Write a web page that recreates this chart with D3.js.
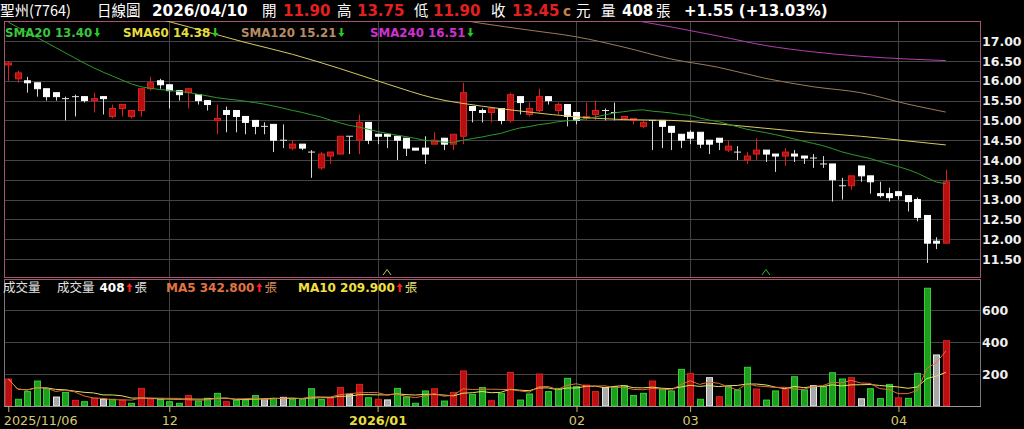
<!DOCTYPE html>
<html><head><meta charset="utf-8">
<script src="https://cdn.jsdelivr.net/npm/d3@7"></script>
<style>html,body{margin:0;padding:0;background:#000;overflow:hidden}</style>
</head><body><svg id="c" width="1024" height="429"></svg>
<script>
// ---------------- data ----------------
const open = [16.40,16.05,16.00,15.95,15.80,15.70,15.55,15.60,15.60,15.50,
15.60,15.10,15.30,15.10,15.25,15.80,16.00,15.90,15.75,15.70,
15.65,15.50,15.00,15.25,15.25,15.10,15.00,14.85,14.90,14.50,
14.30,14.40,14.20,13.80,14.10,14.15,14.60,14.50,14.95,14.65,
14.65,14.60,14.55,14.30,14.30,14.40,14.55,14.40,14.60,15.35,
15.25,15.20,15.30,15.00,15.60,15.15,15.25,15.60,15.25,15.40,
15.20,15.05,15.15,15.25,15.20,15.05,15.00,14.85,15.00,15.00,
14.85,14.65,14.70,14.70,14.50,14.55,14.25,14.20,14.00,14.15,
14.25,14.15,14.10,14.15,14.10,14.05,13.90,13.90,13.35,13.35,
13.85,13.60,13.15,13.15,13.20,13.10,13.00,12.60,11.95,11.90];
const high = [16.50,16.25,16.10,15.95,15.80,15.70,15.60,15.65,15.60,15.70,
15.60,15.40,15.40,15.25,15.80,16.10,16.05,15.90,15.75,15.80,
15.65,15.50,15.40,15.35,15.25,15.10,15.00,14.95,14.90,14.90,
14.50,14.40,14.25,14.20,14.20,14.60,14.60,15.15,14.95,14.65,
14.65,14.60,14.55,14.30,14.60,14.70,14.55,14.65,15.95,15.35,
15.30,15.30,15.30,15.70,15.60,15.45,15.80,15.60,15.45,15.40,
15.20,15.45,15.50,15.30,15.45,15.10,15.05,15.00,15.00,15.00,
14.85,14.65,14.75,14.70,14.50,14.55,14.50,14.35,14.20,14.55,
14.25,14.15,14.30,14.25,14.10,14.15,14.10,13.90,13.55,13.60,
13.85,13.60,13.45,13.30,13.20,13.10,13.05,12.60,12.05,13.75];
const low = [16.00,15.95,15.70,15.60,15.50,15.50,15.00,15.10,15.45,15.20,
15.15,15.05,15.10,15.05,15.10,15.75,15.80,15.30,15.50,15.30,
15.40,15.25,14.65,14.70,14.70,14.65,14.65,14.65,14.20,14.30,
14.25,14.25,13.55,13.75,13.90,14.15,14.15,14.15,14.40,14.40,
14.30,14.00,14.10,14.25,13.90,14.40,14.25,14.25,14.40,14.95,
14.95,14.95,14.90,14.95,15.15,15.10,15.20,15.40,15.15,14.85,
14.90,15.00,15.00,15.00,15.00,15.05,14.90,14.80,14.25,14.30,
14.25,14.30,14.40,14.30,14.15,14.25,14.20,14.00,13.90,14.00,
13.95,13.70,13.85,13.95,13.90,13.80,13.80,12.95,13.00,13.25,
13.45,13.15,13.05,12.95,13.00,12.70,12.45,11.40,11.75,11.90];
const close = [16.45,16.20,15.95,15.80,15.60,15.60,15.55,15.60,15.50,15.55,
15.55,15.30,15.40,15.25,15.80,15.95,15.90,15.75,15.65,15.80,
15.50,15.40,15.05,15.15,15.10,14.95,14.85,14.85,14.50,14.50,
14.40,14.30,14.20,14.15,14.20,14.60,14.60,14.95,14.50,14.60,
14.60,14.50,14.30,14.25,14.15,14.50,14.40,14.65,15.70,15.25,
15.20,15.30,15.00,15.65,15.45,15.30,15.60,15.50,15.40,15.10,
15.00,15.10,15.25,15.25,15.20,15.10,15.05,14.95,15.00,14.85,
14.70,14.50,14.55,14.40,14.40,14.45,14.35,14.20,14.10,14.25,
14.15,14.10,14.20,14.10,14.05,14.05,13.90,13.50,13.35,13.60,
13.60,13.45,13.10,13.05,13.10,12.95,12.55,11.90,11.90,13.45];
const volume = [169,42,90,156,110,56,85,35,27,48,
42,42,35,17,110,42,42,27,17,65,
31,48,79,27,35,38,65,42,48,54,
42,42,108,40,48,115,73,135,52,42,
38,110,56,17,94,108,31,85,219,73,
115,33,79,210,37,75,200,90,110,173,
121,131,90,115,121,127,65,79,156,106,
94,229,204,42,177,58,121,100,242,106,
37,94,106,183,100,127,121,208,169,177,
45,108,46,135,51,48,204,736,319,408];

// SMA20 before enough closes are on the chart
const sma20Early = [17.48,17.35,17.22,17.10,16.97,16.84,16.71,16.58,16.45,16.33,
16.22,16.12,16.02,15.92,15.85,15.81,15.78,15.76,15.73];
// long moving averages at these candle indices
const maIdx  = [0,5,10,15,20,25,30,35,40,45,50,55,60,65,70,75,80,85,90,95,99];
const sma60  = [18.60,18.28,17.95,17.62,17.30,16.97,16.67,16.31,15.92,15.56,15.36,15.21,15.09,15.02,15.00,14.91,14.80,14.69,14.60,14.48,14.38];
const sma120 = [19.00,18.90,18.80,18.70,18.55,18.40,18.25,18.05,17.85,17.65,17.45,17.28,17.11,16.85,16.55,16.34,16.06,15.85,15.70,15.41,15.21];
const sma240 = [19.90,19.70,19.50,19.30,19.10,18.95,18.80,18.65,18.50,18.35,18.20,18.05,17.85,17.58,17.36,17.13,16.89,16.73,16.62,16.55,16.51];

const priceTicks = [11.5,12.0,12.5,13.0,13.5,14.0,14.5,15.0,15.5,16.0,16.5,17.0];
const volTicks = [200,400,600];
const dateTickIdx = [0,17,39,60,72,94];
const dateTickLabels = ["2025/11/06","12","2026/01","02","03","04"];
const dateTickYear = [false,false,true,false,false,false];
const markerIdx = [40,80];
const markerColors = ["#c8bf6a","#2fb82f"];

const smaLegend = [
  {name:"SMA20", value:"13.40", color:"#3cc43c", line:"#2e9a2e"},
  {name:"SMA60", value:"14.38", color:"#e6dc3c", line:"#d8c860"},
  {name:"SMA120", value:"15.21", color:"#b88c62", line:"#9c7a58"},
  {name:"SMA240", value:"16.51", color:"#d030d0", line:"#b43cb4"}
];
const volLegendVals = {vol:"408", ma5:"342.800", ma10:"209.900"};

// ---------------- drawing ----------------
const N = close.length;
const svg = d3.select("#c");
const CJK = "'Noto Sans CJK TC','Noto Sans CJK SC',sans-serif";
const LAT = "'DejaVu Sans',Verdana,sans-serif";
svg.append("rect").attr("width",1024).attr("height",429).attr("fill","#000");

const PL=4, PR=980, MT=21, MB=276.5, VT=279, VB=406;
const x = d3.scaleLinear().domain([0, 99]).range([8.3, 945.8]);
const y = d3.scaleLinear().domain([11.5, 17.0]).range([259, 41.2]);
const yv = d3.scaleLinear().domain([0, 600]).range([406, 310]);

const defs = svg.append("defs");
defs.append("clipPath").attr("id","mainClip").append("rect")
  .attr("x",PL).attr("y",MT).attr("width",PR-PL).attr("height",MB-MT);
defs.append("clipPath").attr("id","volClip").append("rect")
  .attr("x",PL).attr("y",VT).attr("width",PR-PL).attr("height",VB-VT);

// grids
const grid = svg.append("g").attr("stroke","#444").attr("stroke-width",1).attr("shape-rendering","crispEdges");
priceTicks.forEach(p => grid.append("line").attr("x1",PL).attr("x2",PR).attr("y1",Math.round(y(p))+0.5).attr("y2",Math.round(y(p))+0.5));
volTicks.forEach(v => grid.append("line").attr("x1",PL).attr("x2",PR).attr("y1",Math.round(yv(v))+0.5).attr("y2",Math.round(yv(v))+0.5));
dateTickIdx.slice(1).forEach(i => {
  const xx = Math.round(x(i))+0.5;
  grid.append("line").attr("x1",xx).attr("x2",xx).attr("y1",MT).attr("y2",MB);
  grid.append("line").attr("x1",xx).attr("x2",xx).attr("y1",VT).attr("y2",VB);
});

// borders
svg.append("rect").attr("x",PL+0.5).attr("y",MT+0.5).attr("width",PR-PL).attr("height",MB-MT)
  .attr("fill","none").attr("stroke","#a4566f").attr("shape-rendering","crispEdges");
svg.append("line").attr("x1",PL).attr("x2",PR).attr("y1",VT+0.5).attr("y2",VT+0.5)
  .attr("stroke","#a4566f").attr("shape-rendering","crispEdges");
svg.append("line").attr("x1",PL+0.5).attr("x2",PL+0.5).attr("y1",VT).attr("y2",VB)
  .attr("stroke","#777").attr("shape-rendering","crispEdges");
svg.append("line").attr("x1",PR+0.5).attr("x2",PR+0.5).attr("y1",VT).attr("y2",VB)
  .attr("stroke","#777").attr("shape-rendering","crispEdges");

// candles
const cw = 7;
const cg = svg.append("g").attr("clip-path","url(#mainClip)");
const candle = cg.selectAll("g").data(d3.range(N)).join("g");
candle.append("line")
  .attr("x1",i=>Math.round(x(i))+0.5).attr("x2",i=>Math.round(x(i))+0.5)
  .attr("y1",i=>y(high[i])).attr("y2",i=>y(low[i]))
  .attr("stroke",i=>close[i]>open[i]?"#e01c1c":"#d8d8d8").attr("stroke-width",1);
candle.append("rect")
  .attr("x",i=>Math.round(x(i))-3+0.5)
  .attr("width",cw-1)
  .attr("y",i=>y(Math.max(open[i],close[i])))
  .attr("height",i=>Math.max(0.01,Math.abs(y(open[i])-y(close[i]))))
  .attr("fill",i=>close[i]>open[i]?"#b41010":"#ffffff")
  .attr("stroke",i=>close[i]>open[i]?"#e02020":(close[i]<open[i]?"#ffffff":"#e0e0e0"))
  .attr("stroke-width",1);

// moving average lines (price)
const sma20 = d3.range(N).map(i => i < sma20Early.length ? sma20Early[i] : d3.mean(close.slice(i-19, i+1)));
const priceLine = d3.line().x(d=>x(d[0])).y(d=>y(d[1])).curve(d3.curveMonotoneX);
const mg = svg.append("g").attr("clip-path","url(#mainClip)").attr("fill","none").attr("stroke-width",1);
mg.append("path").attr("d",priceLine(maIdx.map((k,j)=>[k,sma240[j]]))).attr("stroke",smaLegend[3].line);
mg.append("path").attr("d",priceLine(maIdx.map((k,j)=>[k,sma120[j]]))).attr("stroke",smaLegend[2].line);
mg.append("path").attr("d",priceLine(maIdx.map((k,j)=>[k,sma60[j]]))).attr("stroke",smaLegend[1].line);
mg.append("path").attr("d",d3.line().x((d,i)=>x(i)).y(d=>y(d))(sma20)).attr("stroke",smaLegend[0].line);

// markers
markerIdx.forEach((k,j)=>{
  const xx = x(k);
  svg.append("path").attr("d",`M${xx-4},${MB-1.5}L${xx},${MB-7}L${xx+4},${MB-1.5}`)
    .attr("fill","none").attr("stroke",markerColors[j]).attr("stroke-width",1);
});

// price axis
const pAxis = svg.append("g").attr("transform",`translate(${PR+1},0)`)
  .call(d3.axisRight(y).tickValues(priceTicks).tickFormat(d3.format(".2f")).tickSize(0).tickPadding(1));
pAxis.select(".domain").remove();
pAxis.selectAll("text").attr("fill","#f0f0f0").attr("font-family",LAT).attr("font-weight","bold").attr("font-size","12.5px");

// volume bars
const dir = i => i===0 ? Math.sign(close[0]-open[0]) : Math.sign(Math.round((close[i]-close[i-1])*100));
const vg = svg.append("g").attr("clip-path","url(#volClip)");
vg.selectAll("rect").data(d3.range(N)).join("rect")
  .attr("x",i=>Math.round(x(i))-3+0.5).attr("width",cw-1)
  .attr("y",i=>yv(volume[i])).attr("height",i=>yv(0)-yv(volume[i]))
  .attr("fill",i=>dir(i)>0?"#b81010":dir(i)<0?"#1e9e1e":"#a8a8a8")
  .attr("stroke",i=>dir(i)>0?"#e02020":dir(i)<0?"#34d034":"#e8e8e8").attr("stroke-width",1);
const maV = n => d3.range(N).map(i => d3.mean(volume.slice(Math.max(0,i-n+1), i+1)));
const vLine = d3.line().x((d,i)=>x(i)).y(d=>yv(d));
vg.append("path").attr("d",vLine(maV(10))).attr("fill","none").attr("stroke","#e8e060").attr("stroke-width",1);
vg.append("path").attr("d",vLine(maV(5))).attr("fill","none").attr("stroke","#dc7038").attr("stroke-width",1);

// volume axis
const vAxis = svg.append("g").attr("transform",`translate(${PR+1},0)`)
  .call(d3.axisRight(yv).tickValues(volTicks).tickSize(0).tickPadding(1));
vAxis.select(".domain").remove();
vAxis.selectAll("text").attr("fill","#f0f0f0").attr("font-family",LAT).attr("font-weight","bold").attr("font-size","12.5px");

// x axis
svg.append("line").attr("x1",PL).attr("x2",PR+1).attr("y1",VB+0.5).attr("y2",VB+0.5)
  .attr("stroke","#9a9a9a").attr("shape-rendering","crispEdges");
const xAxis = svg.append("g").attr("transform",`translate(0,${VB})`)
  .call(d3.axisBottom(x).tickValues(dateTickIdx).tickFormat((d,i)=>dateTickLabels[i]).tickSize(6).tickPadding(4));
xAxis.select(".domain").remove();
xAxis.selectAll("line").attr("stroke","#c8b860");
xAxis.selectAll("text")
  .attr("fill",(d,i)=>dateTickYear[i]?"#e6dc40":"#d6c878")
  .attr("font-family",LAT)
  .attr("font-weight",(d,i)=>dateTickYear[i]?"bold":"normal")
  .attr("font-size","12.8px")
  .attr("text-anchor",(d,i)=>i===0?"start":"middle").attr("dx",(d,i)=>i===0?-5:0);

// ---------- texts ----------
function seq(g, x0, yb, parts){
  let cx = x0;
  parts.forEach(p=>{
    cx += (p.gap||0);
    if (p.arrow){
      const up = p.arrow==="up";
      const w=6, h=9, top=yb-h+0.5;
      const d = up
        ? `M${cx},${top+4}L${cx+w/2},${top}L${cx+w},${top+4}L${cx+w*0.68},${top+4}L${cx+w*0.68},${top+h}L${cx+w*0.32},${top+h}L${cx+w*0.32},${top+4}Z`
        : `M${cx+w*0.32},${top}L${cx+w*0.68},${top}L${cx+w*0.68},${top+h-4}L${cx+w},${top+h-4}L${cx+w/2},${top+h}L${cx},${top+h-4}L${cx+w*0.32},${top+h-4}Z`;
      g.append("path").attr("d",d).attr("fill",p.color);
      cx += w;
    } else {
      const t = g.append("text").attr("x",cx).attr("y",yb).text(p.t)
        .attr("fill",p.color).attr("font-family",p.cjk?CJK:LAT)
        .attr("font-weight",p.bold?"bold":"normal").attr("font-size",p.size+"px");
      cx += t.node().getComputedTextLength();
    }
  });
}
const tg = svg.append("g");
// header
const H = 15.5, W="#ffffff", RED="#e32020";
const hdr = [
  [0,   "聖州(7764)", W, true, false, 14.5],
  [97,  "日線圖", W, true, false, 14.5],
  [152, "2026/04/10", W, false, true, 15.2],
  [262, "開", W, true, false, 14.5],
  [283, "11.90", RED, false, true, 15],
  [337, "高", W, true, false, 14.5],
  [357, "13.75", RED, false, true, 15],
  [414, "低", W, true, false, 14.5],
  [433, "11.90", RED, false, true, 15],
  [491, "收", W, true, false, 14.5],
  [512, "13.45", RED, false, true, 15],
  [563, "c", "#c8804f", false, true, 13.5],
  [576, "元", W, true, false, 14.5],
  [601, "量", W, true, false, 14.5],
  [622, "408", W, false, true, 15],
  [656, "張", W, true, false, 14.5],
  [684, "+1.55 (+13.03%)", W, false, true, 15]
];
hdr.forEach(h=>{
  tg.append("text").attr("x",h[0]).attr("y",H).text(h[1]).attr("fill",h[2])
    .attr("font-family",h[3]?CJK:LAT).attr("font-weight",h[4]?"bold":"normal").attr("font-size",h[5]+"px");
});
// SMA legend
const smaX = [5,123,241,370];
smaLegend.forEach((s,j)=>{
  seq(tg, smaX[j], 36.5, [
    {t:s.name+" "+s.value, color:s.color, bold:true, size:11.8},
    {arrow:"down", color:"#22d022", gap:2}
  ]);
});
// volume legend
seq(tg, 3, 291.5, [{t:"成交量", color:"#e0e0e0", cjk:true, size:12.5}]);
seq(tg, 57, 291.5, [
  {t:"成交量", color:"#e0e0e0", cjk:true, size:12.5},
  {t:volLegendVals.vol, color:"#ffffff", bold:true, size:12, gap:5},
  {arrow:"up", color:"#ff2020", gap:2},
  {t:"張", color:"#e0e0e0", cjk:true, size:12.5, gap:2}
]);
seq(tg, 166, 291.5, [
  {t:"MA5 "+volLegendVals.ma5, color:"#e07440", bold:true, size:12},
  {arrow:"up", color:"#ff2020", gap:2},
  {t:"張", color:"#d89060", cjk:true, size:12.5, gap:2}
]);
seq(tg, 298, 291.5, [
  {t:"MA10 "+volLegendVals.ma10, color:"#f0e040", bold:true, size:12},
  {arrow:"up", color:"#ff2020", gap:2},
  {t:"張", color:"#e8e070", cjk:true, size:12.5, gap:2}
]);
</script></body></html>
